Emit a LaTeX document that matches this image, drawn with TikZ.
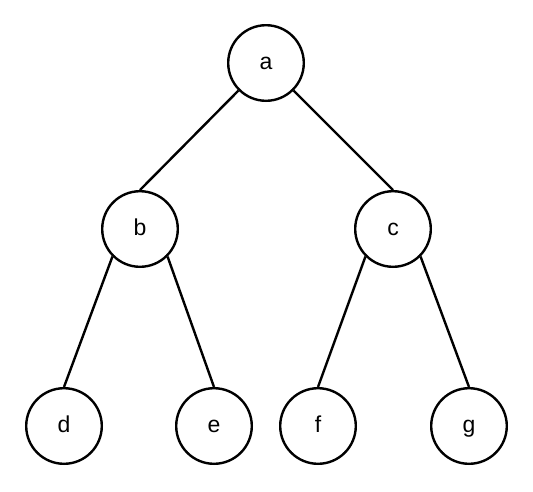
\documentclass[tikz,border=0pt]{standalone}
\usepackage{fontspec}
\setmainfont{Liberation Sans}
\usepackage{tikz}
\usetikzlibrary{positioning}
\tikzset{
  treenode/.style={draw,circle,line width=2.4pt,minimum size=75.6pt,inner sep=0pt,
    text height=12pt,text depth=0pt,font=\fontsize{23}{23}\selectfont},
  treeedge/.style={line width=2.4pt}
}

\begin{document}
\begin{tikzpicture}[x=1pt,y=-1pt]
        \useasboundingbox (0,0) rectangle (533,491);
        \node[treenode] (a) at (266,63) {a};
        \node[treenode] (b) at (140,229) {b};
        \node[treenode] (c) at (393,229) {c};
        \node[treenode] (d) at (64,426) {d};
        \node[treenode] (e) at (214,426) {e};
        \node[treenode] (f) at (318,426) {f};
        \node[treenode] (g) at (469,426) {g};
        \draw[treeedge] (a.south west) -- (b.north);
        \draw[treeedge] (a.south east) -- (c.north);
        \draw[treeedge] (b.south west) -- (d.north);
        \draw[treeedge] (b.south east) -- (e.north);
        \draw[treeedge] (c.south west) -- (f.north);
        \draw[treeedge] (c.south east) -- (g.north);
      \end{tikzpicture}
\end{document}
